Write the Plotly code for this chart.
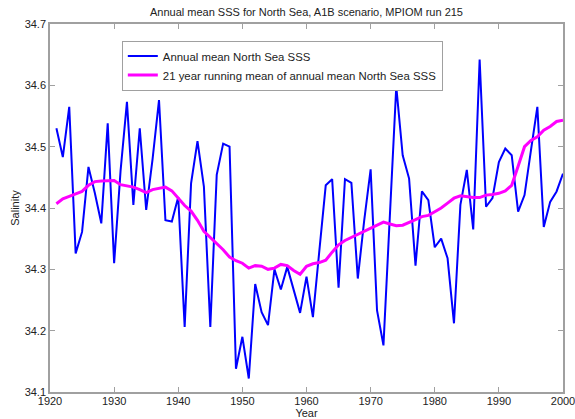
import plotly.graph_objects as go

years = list(range(1921, 2001))

annual_sss = [
    34.530, 34.483, 34.565, 34.326, 34.361, 34.467, 34.424, 34.375, 34.538, 34.310,
    34.460, 34.573, 34.405, 34.530, 34.397, 34.480, 34.576, 34.380, 34.378, 34.418,
    34.206, 34.440, 34.509, 34.435, 34.206, 34.454, 34.505, 34.500, 34.138, 34.190,
    34.122, 34.276, 34.230, 34.209, 34.300, 34.267, 34.304, 34.266, 34.229, 34.288,
    34.222, 34.330, 34.437, 34.447, 34.270, 34.447, 34.441, 34.285, 34.380, 34.463,
    34.233, 34.176, 34.380, 34.598, 34.486, 34.448, 34.306, 34.427, 34.413, 34.336,
    34.350, 34.318, 34.212, 34.405, 34.462, 34.365, 34.642, 34.402, 34.416, 34.475,
    34.497, 34.486, 34.394, 34.421, 34.494, 34.565, 34.369, 34.410, 34.427, 34.456,
]

running_mean = [
    34.407, 34.415, 34.419, 34.423, 34.427, 34.437, 34.443, 34.444, 34.445, 34.445,
    34.438, 34.436, 34.434, 34.430, 34.425, 34.430, 34.432, 34.434, 34.428, 34.416,
    34.404, 34.395, 34.380, 34.362, 34.352, 34.343, 34.332, 34.320, 34.314, 34.310,
    34.302, 34.306, 34.305, 34.300, 34.302, 34.308, 34.306, 34.298, 34.292, 34.305,
    34.309, 34.311, 34.315, 34.328, 34.340, 34.347, 34.352, 34.357, 34.362, 34.368,
    34.373, 34.377, 34.374, 34.371, 34.372, 34.376, 34.381, 34.386, 34.388, 34.394,
    34.400, 34.408, 34.416, 34.420, 34.418, 34.417, 34.417, 34.421, 34.422, 34.424,
    34.428, 34.437, 34.468, 34.500, 34.510, 34.516, 34.527, 34.533, 34.541, 34.543,
]

x_ticks = [1920, 1930, 1940, 1950, 1960, 1970, 1980, 1990, 2000]
y_ticks = [34.1, 34.2, 34.3, 34.4, 34.5, 34.6, 34.7]

font_family = "Liberation Sans, Arial, sans-serif"

fig = go.Figure()
fig.add_trace(go.Scatter(
    x=years, y=annual_sss, mode="lines",
    name="Annual mean North Sea SSS",
    line=dict(color="#0000ff", width=2),
))
fig.add_trace(go.Scatter(
    x=years, y=running_mean, mode="lines",
    name="21 year running mean of annual mean North Sea SSS",
    line=dict(color="#ff00ff", width=3),
))

axis_common = dict(
    showline=True, linecolor="#a0a0a0", linewidth=1.5, mirror="ticks",
    ticks="inside", ticklen=5, tickcolor="#a0a0a0",
    showgrid=False, zeroline=False, automargin=False,
    ticklabeloverflow="allow",
    tickfont=dict(family=font_family, size=11, color="#222"),
)

fig.update_layout(
    width=575, height=419,
    margin=dict(l=50, r=12, t=24, b=27),
    paper_bgcolor="white", plot_bgcolor="white",
    font=dict(family=font_family, size=11, color="#222"),
    title=dict(
        text="Annual mean SSS for North Sea, A1B scenario, MPIOM run 215",
        x=0.533, xanchor="center", y=0.971, yanchor="middle",
        yref="container", automargin=False,
        font=dict(family=font_family, size=11, color="#222"),
    ),
    xaxis=dict(
        range=[1920, 2000], tickvals=x_ticks,
        ticktext=[str(t) for t in x_ticks],
        ticklabelstandoff=-2,
        title=dict(text="Year", standoff=0, font=dict(size=11)),
        **axis_common,
    ),
    yaxis=dict(
        range=[34.1, 34.7], tickvals=y_ticks,
        ticktext=[f"{t:.1f}" for t in y_ticks],
        title=dict(text="Salinity", standoff=3, font=dict(size=11)),
        **axis_common,
    ),
    legend=dict(
        x=0.14, y=0.955, xanchor="left", yanchor="top",
        bgcolor="white", bordercolor="#a0a0a0", borderwidth=1,
        font=dict(family=font_family, size=11.4, color="#222"),
        tracegroupgap=0, itemwidth=30,
    ),
    showlegend=True,
)

fig.write_html(
    "out.html",
    config={"displayModeBar": False},
    post_script="document.body.style.margin='0';document.body.style.overflow='hidden';",
)
